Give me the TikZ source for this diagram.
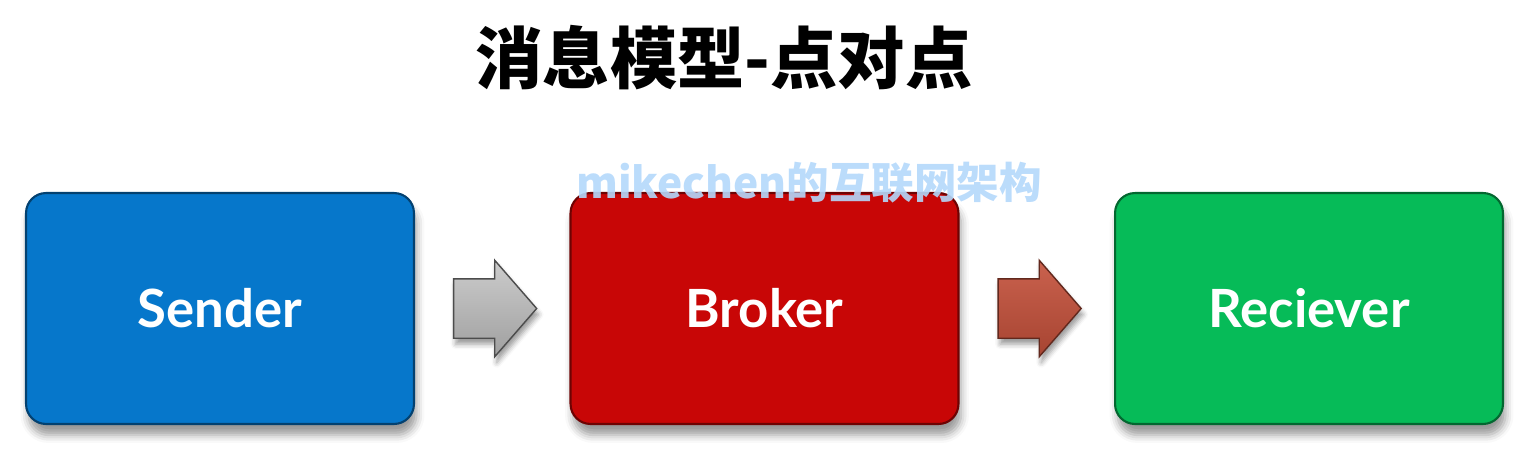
\documentclass[tikz,border=0pt]{standalone}
\usepackage{fontspec}
\setmainfont{Lato}
\newfontfamily\cjk{Noto Sans CJK SC}
\usetikzlibrary{shapes.arrows,shadows.blur,calc}
\definecolor{sendblue}{HTML}{0677CB}
\definecolor{brokerred}{HTML}{C80606}
\definecolor{recvgreen}{HTML}{06BB58}
\definecolor{markblue}{HTML}{B4D8FB}
\definecolor{arrowred}{HTML}{C4503A}
\tikzset{
  box/.style={rounded corners=0.4cm, minimum width=7.76cm, minimum height=4.62cm,
    line width=1.2pt, text=white, font=\bfseries\fontsize{30}{36}\selectfont,
    blur shadow={shadow xshift=0.05cm, shadow yshift=-0.22cm, shadow blur radius=0.16cm}},
  blockarrow/.style={single arrow, text height=1.16cm, text depth=0pt, minimum height=1.66cm,
    single arrow head extend=0.37cm, single arrow tip angle=98, inner sep=0pt,
    line width=0.8pt, xshift=-0.2cm,
    blur shadow={shadow xshift=0.04cm, shadow yshift=-0.12cm, shadow blur radius=0.1cm}}
}
\begin{document}
\begin{tikzpicture}[x=0.02cm,y=-0.02cm]
\useasboundingbox (0,0) rectangle (1527,474);
% title and mark
\node (title) at (724,58) {\cjk\bfseries\fontsize{38.3}{42}\selectfont 消息模型-点对点};
% boxes
\node [box, fill=sendblue, draw=sendblue!55!black] (sender) at (220,308.5) {Sender};
\node [box, fill=brokerred, draw=brokerred!55!black] (broker) at (764.5,308.5) {Broker};
\node [box, fill=recvgreen, draw=recvgreen!55!black] (receiver) at (1309,308.5) {Reciever};
\node [text=markblue, opacity=0.9] (mark) at (809,183) {\cjk\bfseries\fontsize{24.2}{28}\selectfont mikechen的互联网架构};
% arrows between boxes
\node [blockarrow, top color=gray!40, bottom color=gray!75, draw=gray!60!black]
  (send2broker) at ($(sender.east)!0.5!(broker.west)$) {};
\node [blockarrow, top color=arrowred!90!white, bottom color=arrowred!85!black, draw=arrowred!50!black]
  (broker2recv) at ($(broker.east)!0.5!(receiver.west)$) {};
\end{tikzpicture}
\end{document}
